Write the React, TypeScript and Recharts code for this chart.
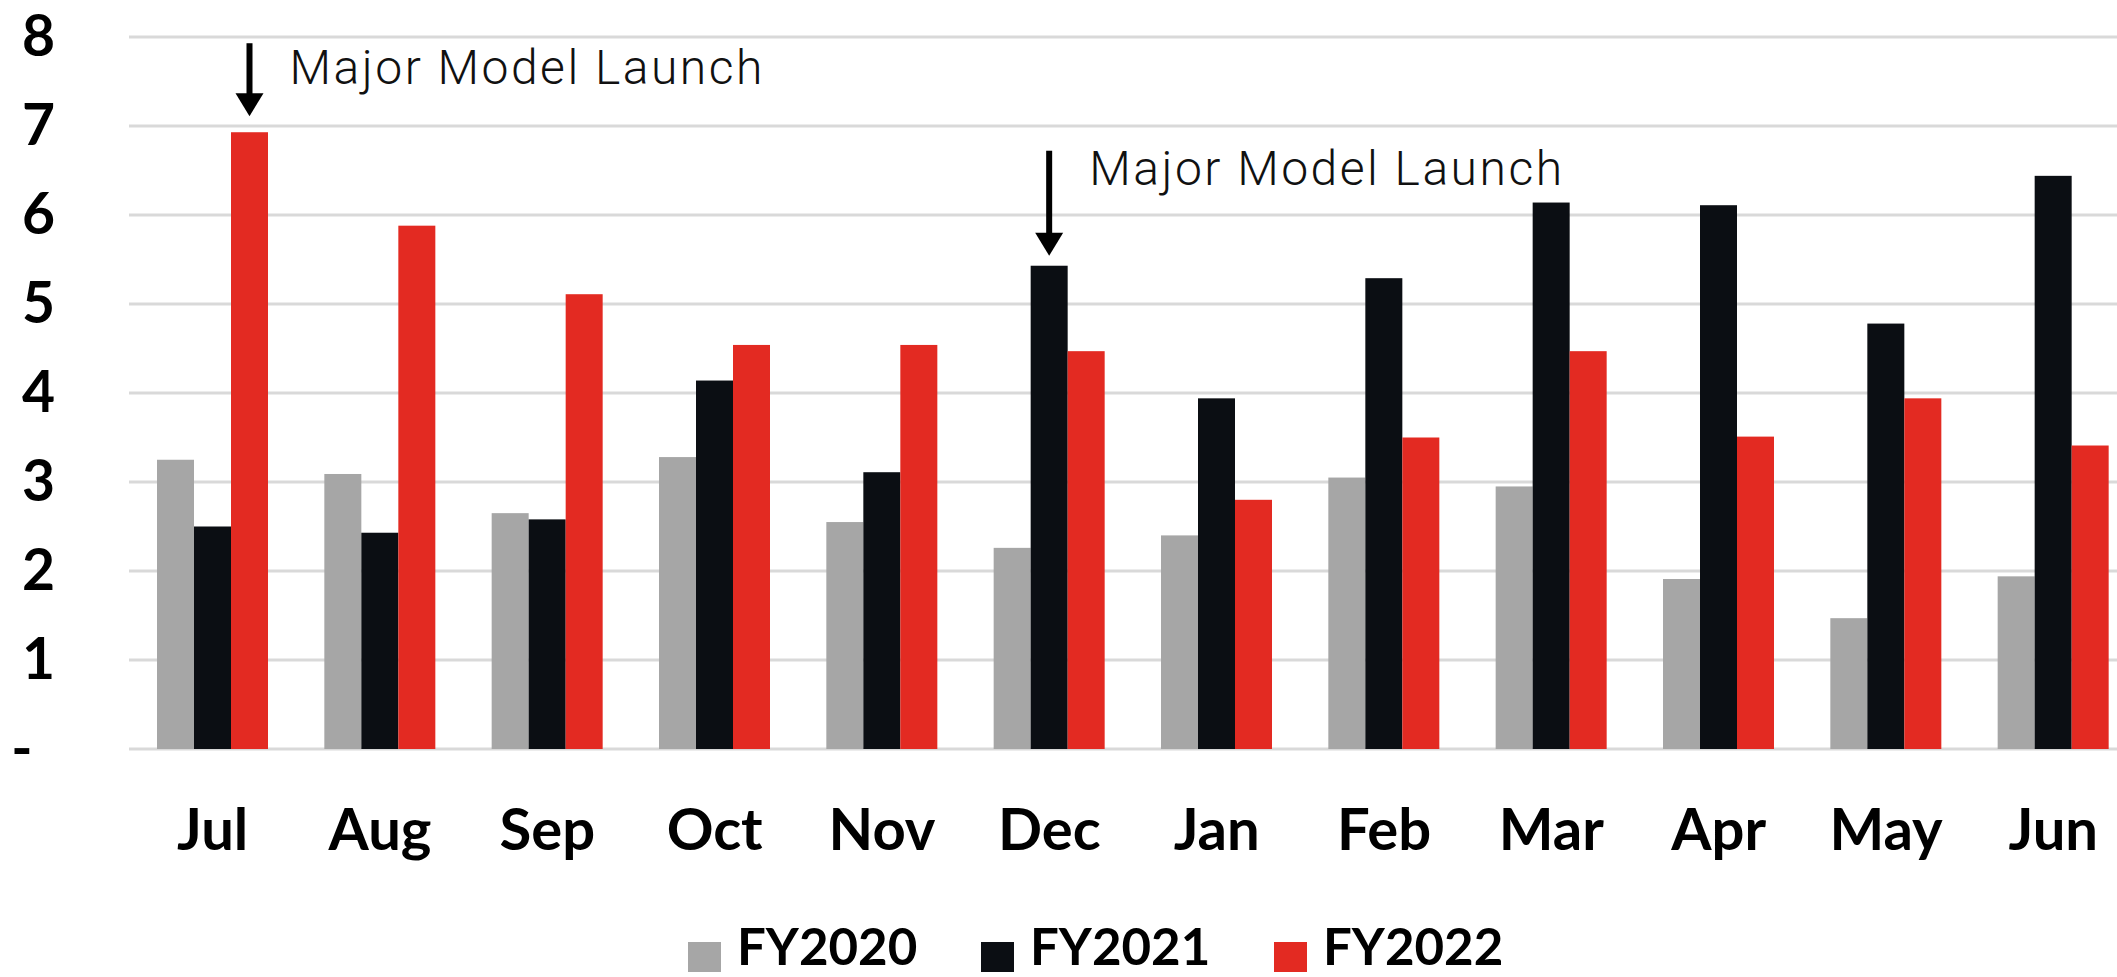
import { BarChart, Bar, XAxis, YAxis, CartesianGrid } from "recharts";

const months = ["Jul", "Aug", "Sep", "Oct", "Nov", "Dec", "Jan", "Feb", "Mar", "Apr", "May", "Jun"];
const fy2020 = [3.25, 3.09, 2.65, 3.28, 2.55, 2.26, 2.4, 3.05, 2.95, 1.91, 1.47, 1.94];
const fy2021 = [2.5, 2.43, 2.58, 4.14, 3.11, 5.43, 3.94, 5.29, 6.14, 6.11, 4.78, 6.44];
const fy2022 = [6.93, 5.88, 5.11, 4.54, 4.54, 4.47, 2.8, 3.5, 4.47, 3.51, 3.94, 3.41];
const yTicks = [0, 1, 2, 3, 4, 5, 6, 7, 8];

const series = [
  { key: "FY2020", values: fy2020, color: "#a6a6a6" },
  { key: "FY2021", values: fy2021, color: "#0b0e13" },
  { key: "FY2022", values: fy2022, color: "#e32a22" },
];

// arrow + caption placed over one bar
const annotations = [
  { series: "FY2022", month: "Jul", text: "Major Model Launch", arrowTop: 89, tipGap: 16, textDy: 48 },
  { series: "FY2021", month: "Dec", text: "Major Model Launch", arrowTop: 115, tipGap: 10, textDy: 81 },
];

const data = months.map((month, i) => {
  const row: Record<string, any> = { month };
  series.forEach((s) => (row[s.key] = s.values[i]));
  return row;
});

const BOLD = "Lato, 'Open Sans', sans-serif";

function YTick({ x, y, payload }: any) {
  if (payload.value === 0) {
    return (
      <text x={x - 107} y={y} dy={19} textAnchor="middle" fontFamily={BOLD} fontWeight={700} fontSize={57} fill="#000">
        -
      </text>
    );
  }
  return (
    <text x={x - 74} y={y} dy={19} textAnchor="end" fontFamily={BOLD} fontWeight={700} fontSize={57} fill="#000">
      {payload.value}
    </text>
  );
}

function XTick({ x, y, payload }: any) {
  return (
    <text x={x} y={y + 101} textAnchor="middle" fontFamily={BOLD} fontWeight={700} fontSize={58} fill="#000">
      {payload.value}
    </text>
  );
}

function makeShape(seriesKey: string) {
  return function BarShape(props: any) {
    const { x, y, width, height, fill, payload } = props;
    const note = annotations.find((a) => a.series === seriesKey && a.month === payload?.month);
    const cx = x + width / 2;
    return (
      <g>
        <rect x={x} y={y} width={width} height={height} fill={fill} />
        {note && (
          <g>
            <rect x={cx - 3} y={y - note.arrowTop} width={6} height={note.arrowTop - note.tipGap - 20} fill="#000" />
            <path
              d={`M${cx - 14},${y - note.tipGap - 23} L${cx + 14},${y - note.tipGap - 23} L${cx},${y - note.tipGap} Z`}
              fill="#000"
            />
            <text
              x={cx + 40}
              y={y - note.textDy}
              fontFamily="Roboto, 'Liberation Sans', sans-serif"
              fontWeight={300}
              fontSize={48}
              letterSpacing={2.5}
              fill="#111"
            >
              {note.text}
            </text>
          </g>
        )}
      </g>
    );
  };
}

export default function App() {
  return (
    <div
      style={{
        position: "absolute",
        left: 0,
        top: 0,
        width: 2117,
        height: 977,
        overflow: "hidden",
        background: "#fff",
      }}
    >
      <BarChart
        width={2140}
        height={977}
        data={data}
        margin={{ top: 37, right: 3, bottom: 198, left: 0 }}
        barSize={37}
        barGap={0}
      >
        <CartesianGrid vertical={false} stroke="#d9d9d9" strokeWidth={3} />
        <XAxis
          dataKey="month"
          height={30}
          axisLine={false}
          tickLine={false}
          tickSize={0}
          tickMargin={0}
          interval={0}
          tick={<XTick />}
        />
        <YAxis
          width={129}
          domain={[0, 8]}
          ticks={yTicks}
          interval={0}
          axisLine={false}
          tickLine={false}
          tickSize={0}
          tickMargin={0}
          tick={<YTick />}
        />
        {series.map((s) => (
          <Bar key={s.key} dataKey={s.key} fill={s.color} isAnimationActive={false} shape={makeShape(s.key)} />
        ))}
      </BarChart>

      {/* legend */}
      <div style={{ position: "absolute", left: 688, top: 916, display: "flex" }}>
        {series.map((s) => (
          <div key={s.key} style={{ display: "flex", alignItems: "flex-start", width: 293 }}>
            <div style={{ width: 33, height: 30, marginTop: 26, background: s.color, marginRight: 16 }} />
            <span style={{ fontFamily: BOLD, fontWeight: 700, fontSize: 51, lineHeight: "60px", color: "#000" }}>
              {s.key}
            </span>
          </div>
        ))}
      </div>
    </div>
  );
}
